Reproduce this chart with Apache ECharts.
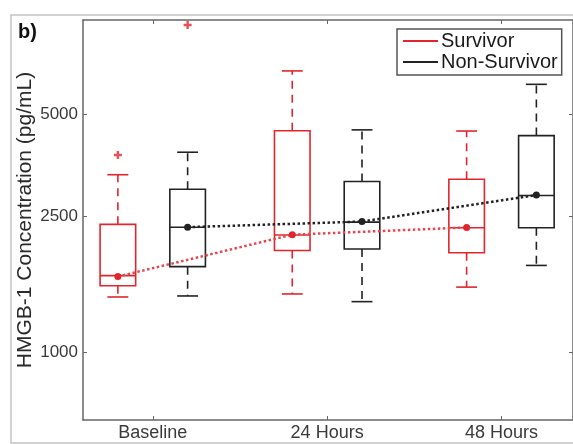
<!DOCTYPE html>
<html>
<head>
<meta charset="utf-8">
<script src="https://cdn.jsdelivr.net/npm/echarts@6/dist/echarts.min.js"></script>
<style>
html, body { margin: 0; padding: 0; background: #fff; }
#chart { width: 573px; height: 444px; }
</style>
</head>
<body>
<div id="chart"></div>
<script>
// 分组 / 刻度
var groups = ['Baseline', '24 Hours', '48 Hours'];
var yTicks = [1000, 2500, 5000];
// 每组箱线: [min, Q1, median, Q3, max] (pg/mL)
var survivorBox = [
	[1450, 1565, 1675, 2370, 3315],
	[1480, 1985, 2205, 4465, 6690],
	[1550, 1955, 2315, 3215, 4455]
];
var nonSurvivorBox = [
	[1460, 1780, 2325, 3005, 3860],
	[1405, 2005, 2405, 3165, 4490],
	[1795, 2315, 2880, 4320, 6110]
];
// 虚线连接的中心点
var survivorMean = [1665, 2210, 2320];
var nonSurvivorMean = [2325, 2415, 2890];
// 离群点 [组序号, 数值]
var survivorOutliers = [[0, 3790]];
var nonSurvivorOutliers = [[0, 9130]];

var RED = '#e0262c';
var BLACK = '#222';
var FONT = 'Liberation Sans, Arial, Helvetica, sans-serif';
var OFFSET = 0.2;

function lg(v) {
	return Math.log(v) / Math.LN10;
}

function boxData(rows, offset) {
	return rows.map(function(r, i) {
		return [i + 1 + offset].concat(r.map(lg));
	});
}

function pointData(vals, offset) {
	return vals.map(function(v, i) {
		return [i + 1 + offset, lg(v)];
	});
}

function outlierData(list, offset) {
	return list.map(function(p) {
		return [p[0] + 1 + offset, lg(p[1])];
	});
}

//箱体绘制：实线箱、虚线须
function boxRenderer(color) {
	return function(params, api) {
		var x = api.value(0);
		var pMin = api.coord([x, api.value(1)]);
		var pQ1 = api.coord([x, api.value(2)]);
		var pMed = api.coord([x, api.value(3)]);
		var pQ3 = api.coord([x, api.value(4)]);
		var pMax = api.coord([x, api.value(5)]);
		var half = api.size([0.102, 0])[0];
		var cap = api.size([0.06, 0])[0];
		var cx = pMed[0];
		var solid = { stroke: color, lineWidth: 1.6, fill: 'none' };
		var dashed = { stroke: color, lineWidth: 1.6, lineDash: [8, 6] };
		return {
			type: 'group',
			children: [{
				type: 'rect',
				shape: { x: cx - half, y: pQ3[1], width: half * 2, height: pQ1[1] - pQ3[1] },
				style: solid
			}, {
				type: 'line',
				shape: { x1: cx - half, y1: pMed[1], x2: cx + half, y2: pMed[1] },
				style: solid
			}, {
				type: 'line',
				shape: { x1: cx, y1: pQ3[1], x2: cx, y2: pMax[1] },
				style: dashed
			}, {
				type: 'line',
				shape: { x1: cx, y1: pQ1[1], x2: cx, y2: pMin[1] },
				style: dashed
			}, {
				type: 'line',
				shape: { x1: cx - cap, y1: pMax[1], x2: cx + cap, y2: pMax[1] },
				style: solid
			}, {
				type: 'line',
				shape: { x1: cx - cap, y1: pMin[1], x2: cx + cap, y2: pMin[1] },
				style: solid
			}]
		};
	};
}

var plusIcon = 'path://M3.5,0 L6.5,0 L6.5,3.5 L10,3.5 L10,6.5 L6.5,6.5 L6.5,10 L3.5,10 L3.5,6.5 L0,6.5 L0,3.5 L3.5,3.5 Z';
var axisColor = '#666';
var labelStyle = { color: '#3a3a3a', fontFamily: FONT };

var chart = echarts.init(document.getElementById('chart'));
var option = {
	animation: false,
	backgroundColor: '#fff',
	textStyle: { fontFamily: FONT },
	graphic: [{
		type: 'rect',
		shape: { x: 11, y: 15, width: 600, height: 428 },
		style: { fill: 'none', stroke: '#c4c4c4', lineWidth: 1.5 },
		silent: true
	}, {
		type: 'text',
		left: 18,
		top: 22,
		style: { text: 'b)', fontSize: 20, fontWeight: 'bold', fill: '#111', fontFamily: FONT }
	}],
	legend: {
		orient: 'vertical',
		left: 397,
		top: 29,
		borderColor: '#555',
		borderWidth: 1.5,
		padding: [2, 4, 3, 6],
		itemGap: 1,
		itemWidth: 35,
		itemHeight: 2,
		textStyle: { fontSize: 20, color: '#1a1a1a', fontFamily: FONT, padding: [0, 0, 0, -2] },
		data: [{ name: 'Survivor', icon: 'rect' }, { name: 'Non-Survivor', icon: 'rect' }]
	},
	grid: {
		left: 83,
		top: 20,
		width: 496,
		height: 400,
		containLabel: false
	},
	xAxis: [{
		type: 'value',
		min: 0.6,
		max: 3.41,
		position: 'bottom',
		axisLine: { lineStyle: { color: axisColor, width: 1.5 } },
		axisTick: { inside: true, length: 4, customValues: [1, 2, 3], lineStyle: { color: axisColor } },
		splitLine: { show: false },
		axisLabel: Object.assign({
			fontSize: 18,
			margin: 4,
			customValues: [1, 2, 3],
			formatter: function(v) {
				return groups[Math.round(v) - 1];
			}
		}, labelStyle)
	}, {
		type: 'value',
		min: 0.6,
		max: 3.41,
		position: 'top',
		axisLine: { lineStyle: { color: axisColor, width: 1.5 } },
		axisTick: { inside: true, length: 4, customValues: [1, 2, 3], lineStyle: { color: axisColor } },
		splitLine: { show: false },
		axisLabel: { show: false }
	}],
	yAxis: [{
		type: 'value',
		min: 2.80,
		max: 3.975,
		position: 'left',
		name: 'HMGB-1 Concentration (pg/mL)',
		nameLocation: 'middle',
		nameMoveOverlap: false,
		nameGap: 47,
		nameTextStyle: { fontSize: 21, color: '#2a2a2a', fontFamily: FONT },
		axisLine: { show: true, lineStyle: { color: axisColor, width: 1.5 } },
		axisTick: { show: true, inside: true, length: 4, customValues: yTicks.map(lg), lineStyle: { color: axisColor } },
		splitLine: { show: false },
		axisLabel: Object.assign({
			fontSize: 17,
			margin: 5,
			customValues: yTicks.map(lg),
			formatter: function(v) {
				return Math.round(Math.pow(10, v));
			}
		}, labelStyle)
	}, {
		type: 'value',
		min: 2.80,
		max: 3.975,
		position: 'right',
		axisLine: { show: true, lineStyle: { color: axisColor, width: 1.5 } },
		axisTick: { show: true, inside: true, length: 4, customValues: yTicks.map(lg), lineStyle: { color: axisColor } },
		splitLine: { show: false },
		axisLabel: { show: false }
	}],
	series: [{
		name: 'Survivor',
		type: 'custom',
		itemStyle: { color: RED },
		renderItem: boxRenderer(RED),
		encode: { x: 0, y: [1, 2, 3, 4, 5] },
		data: boxData(survivorBox, -OFFSET)
	}, {
		name: 'Non-Survivor',
		type: 'custom',
		itemStyle: { color: BLACK },
		renderItem: boxRenderer(BLACK),
		encode: { x: 0, y: [1, 2, 3, 4, 5] },
		data: boxData(nonSurvivorBox, OFFSET)
	}, {
		name: 'Survivor trend',
		type: 'line',
		symbol: 'circle',
		symbolSize: 7,
		itemStyle: { color: RED },
		lineStyle: { color: '#e5474d', width: 2.5, type: 'dotted' },
		z: 3,
		data: pointData(survivorMean, -OFFSET)
	}, {
		name: 'Non-Survivor trend',
		type: 'line',
		symbol: 'circle',
		symbolSize: 7,
		itemStyle: { color: BLACK },
		lineStyle: { color: BLACK, width: 2.5, type: 'dotted' },
		z: 3,
		data: pointData(nonSurvivorMean, OFFSET)
	}, {
		name: 'Outliers',
		type: 'scatter',
		symbol: plusIcon,
		symbolSize: 8,
		itemStyle: { color: RED },
		data: outlierData(survivorOutliers, -OFFSET).concat(outlierData(nonSurvivorOutliers, OFFSET))
	}]
};
chart.setOption(option);
</script>
</body>
</html>
